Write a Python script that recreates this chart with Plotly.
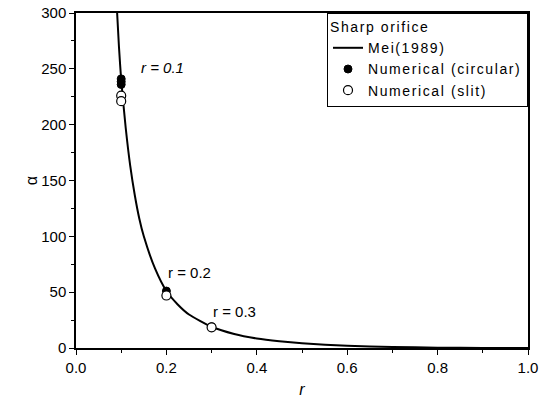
import plotly.graph_objects as go

# Mei (1989) curve
mei_r = [0.091, 0.095, 0.10, 0.11, 0.12, 0.13, 0.14, 0.15, 0.175, 0.20, 0.225, 0.25, 0.30, 0.35, 0.40, 0.45, 0.50, 0.60, 0.70, 0.80, 0.90, 1.00]
mei_a = [300, 270, 240, 197, 163, 137, 116, 100, 71, 51, 39, 30, 19, 12.5, 8.5, 6.0, 4.2, 2.0, 0.9, 0.3, 0.06, 0.0]

# Numerical results
circ_r = [0.1, 0.1, 0.1, 0.2, 0.3]
circ_a = [241, 238.5, 236, 51, 19]
slit_r = [0.1, 0.1, 0.2, 0.3]
slit_a = [226, 221, 47, 18.5]

# Annotations
ann_text = ["<i>r = 0.1</i>", "r = 0.2", "r = 0.3"]
ann_x = [0.14, 0.199, 0.298]
ann_y = [242, 58, 23]

FONT = "Liberation Sans, Arial, sans-serif"
SP = '<span style="letter-spacing:1.6px">{}</span>'

fig = go.Figure()
fig.add_trace(go.Scatter(x=mei_r, y=mei_a, mode="lines", name=SP.format("Mei(1989)"),
                         line=dict(color="black", width=2, shape="spline", smoothing=0.6)))
fig.add_trace(go.Scatter(x=circ_r, y=circ_a, mode="markers", name=SP.format("Numerical (circular)"),
                         marker=dict(symbol="circle", size=8, color="black",
                                     line=dict(color="black", width=1))))
fig.add_trace(go.Scatter(x=slit_r, y=slit_a, mode="markers", name=SP.format("Numerical (slit)"),
                         marker=dict(symbol="circle", size=9, color="white",
                                     line=dict(color="black", width=1.2))))

for t, x, y in zip(ann_text, ann_x, ann_y):
    fig.add_annotation(x=x, y=y, text=t, showarrow=False,
                       xanchor="left", yanchor="bottom",
                       font=dict(family=FONT, size=15, color="black"))

axis_common = dict(showline=True, linecolor="black", linewidth=1.5, mirror=True,
                   ticks="outside", ticklen=5, tickwidth=1, tickcolor="black",
                   showgrid=False, zeroline=False, automargin=False,
                   ticklabeloverflow="allow",
                   tickfont=dict(family=FONT, size=15, color="black"))

fig.update_xaxes(range=[0, 1.0], dtick=0.2, tickformat=".1f",
                 minor=dict(dtick=0.1, ticks="outside", ticklen=3, tickcolor="black"),
                 title=dict(text="<i>r</i>", font=dict(family=FONT, size=16, color="black"), standoff=9),
                 **axis_common)
fig.update_yaxes(range=[0, 300], dtick=50,
                 minor=dict(dtick=25, ticks="outside", ticklen=3, tickcolor="black"),
                 title=dict(text="α", font=dict(family=FONT, size=16, color="black"), standoff=0),
                 **axis_common)

fig.update_layout(
    width=551, height=407,
    margin=dict(l=76, r=23, t=13, b=59, autoexpand=False),
    plot_bgcolor="white", paper_bgcolor="white",
    font=dict(family=FONT, size=15, color="black"),
    legend=dict(x=1, xanchor="right", y=1, yanchor="top",
                bordercolor="black", borderwidth=1, bgcolor="white",
                title=dict(text=SP.format("Sharp orifice"), font=dict(family=FONT, size=14)),
                font=dict(family=FONT, size=14), tracegroupgap=0,
                itemwidth=30),
    showlegend=True,
)

fig.write_html("out.html", config={"displayModeBar": False},
               post_script="document.body.style.margin='0';")
